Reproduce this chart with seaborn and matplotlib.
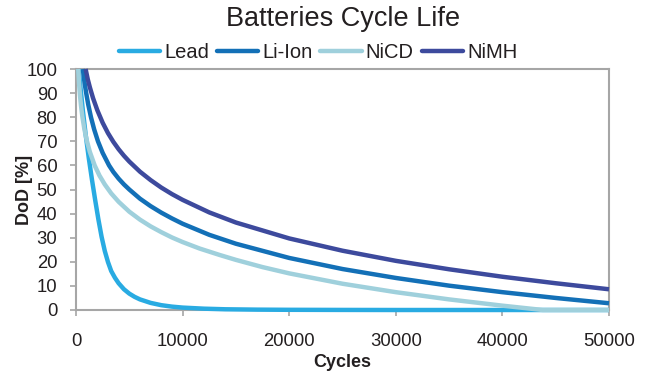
import matplotlib
matplotlib.use("Agg")
import matplotlib.pyplot as plt
import seaborn as sns
import pandas as pd
from matplotlib.lines import Line2D

# Depth of discharge [%] versus achievable cycles for four battery chemistries
lead_cycles = [250, 450, 650, 900, 1200, 1500, 1800, 2100, 2400, 2700, 3000, 3300,
               3650, 4000, 4500, 5000, 5500, 6000, 7000, 8000, 9000, 10000,
               12000, 14000, 17000, 20000, 25000, 30000, 40000, 50000]
lead_dod = [100, 91, 82.5, 73, 63, 54, 45.6, 37.6, 30.4, 24.5, 19.9, 16.2,
            13.4, 11.1, 8.6, 6.8, 5.45, 4.4, 2.95, 2.0, 1.4, 1.0,
            0.55, 0.3, 0.15, 0.08, 0.03, 0, 0, 0]

liion_cycles = [640, 800, 960, 1150, 1410, 1700, 2060, 2500, 3100, 3500, 4000,
                4500, 5000, 6000, 7000, 8000, 9000, 10000, 12500, 15000, 20000,
                25000, 30000, 35000, 40000, 45000, 50000]
liion_dod = [100, 94.4, 89.9, 85.2, 79.9, 75.0, 70.0, 65.2, 60.0, 57.3, 54.5,
             52.1, 50.0, 46.2, 43.1, 40.4, 38.0, 35.8, 31.2, 27.5, 21.6,
             17.0, 13.3, 10.1, 7.4, 5.0, 2.8]

nicd_cycles = [210, 290, 375, 470, 600, 780, 1000, 1300, 1750, 2200, 2700, 3300,
               4000, 5000, 6000, 7000, 8000, 9000, 10000, 11600, 13500, 15000,
               17500, 20000, 25000, 30000, 35000, 40000, 43800, 50000]
nicd_dod = [100, 93.9, 89.0, 84.8, 80.2, 75.2, 70.5, 65.6, 60.0, 55.8, 52.1, 48.4,
            44.9, 40.8, 37.5, 34.7, 32.3, 30.1, 28.2, 25.5, 22.8, 20.8,
            17.8, 15.2, 10.9, 7.4, 4.4, 1.8, 0, 0]

nimh_cycles = [900, 1100, 1300, 1600, 2000, 2500, 3000, 3500, 4000, 4500, 5000,
               6000, 7000, 8000, 9000, 10000, 12500, 15000, 20000, 25000, 30000,
               35000, 40000, 45000, 50000]
nimh_dod = [100, 95.8, 92.4, 87.9, 82.9, 77.7, 73.4, 69.8, 66.7, 64.0, 61.6,
            57.4, 53.9, 50.8, 48.1, 45.7, 40.5, 36.3, 29.7, 24.6, 20.4,
            16.9, 13.8, 11.1, 8.6]

series_names = ["Lead", "Li-Ion", "NiCD", "NiMH"]
series_colors = ["#29abe2", "#1370b7", "#9fd0dc", "#3d4a9d"]

x_ticks = [0, 10000, 20000, 30000, 40000, 50000]
y_ticks = [0, 10, 20, 30, 40, 50, 60, 70, 80, 90, 100]

frames = []
for name, cyc, dod in zip(series_names,
                          [lead_cycles, liion_cycles, nicd_cycles, nimh_cycles],
                          [lead_dod, liion_dod, nicd_dod, nimh_dod]):
    frames.append(pd.DataFrame({"Cycles": cyc, "DoD": dod, "Battery": name}))
df = pd.concat(frames, ignore_index=True)

sns.set_style("white")
plt.rcParams["font.family"] = ["Liberation Sans", "DejaVu Sans"]
text_color = "#231f20"
grey = "#a6a6a6"

fig = plt.figure(figsize=(6.52, 3.71), dpi=100)
ax = fig.add_axes([76 / 652, 1 - 310 / 371, (609 - 76) / 652, (310 - 69) / 371])

palette = dict(zip(series_names, series_colors))
sns.lineplot(data=df, x="Cycles", y="DoD", hue="Battery", hue_order=series_names,
             palette=palette, linewidth=3.2, sort=True, estimator=None,
             legend=False, ax=ax)
for ln in ax.get_lines():
    ln.set_clip_on(False)
    ln.set_zorder(3)
    ln.set_solid_capstyle("butt")
    ln.set_solid_joinstyle("round")

ax.set_xlim(0, 50000)
ax.set_ylim(0, 100)
ax.set_xticks(x_ticks)
ax.set_yticks(y_ticks)
ax.set_xticklabels([str(v) for v in x_ticks])
ax.set_yticklabels([str(v) for v in y_ticks])

for s in ax.spines.values():
    s.set_color(grey)
    s.set_linewidth(1.5)
    s.set_visible(True)

ax.tick_params(axis="both", which="major", direction="out", length=4.5, width=1.2,
               color=grey, labelsize=13.3, labelcolor=text_color)
ax.tick_params(axis="x", bottom=True, top=False, pad=12)
ax.tick_params(axis="y", left=True, right=False, pad=9)

ax.set_xlabel("Cycles", fontsize=13, fontweight="bold", color=text_color, labelpad=3)
ax.set_ylabel("DoD [%]", fontsize=13, fontweight="bold", color=text_color, labelpad=-5)

fig.text(343 / 652, 1 - 19 / 371, "Batteries Cycle Life", ha="center", va="center",
         fontsize=19.5, color=text_color)

handles = [Line2D([0], [0], color=c, linewidth=3.2) for c in series_colors]
fig.legend(handles, series_names, loc="center", bbox_to_anchor=(318 / 652, 1 - 53 / 371),
           ncol=4, frameon=False, fontsize=14.5, handlelength=2.05, handletextpad=0.2,
           columnspacing=0.4, borderpad=0, labelcolor=text_color)

fig.savefig("out.png", dpi=100)
